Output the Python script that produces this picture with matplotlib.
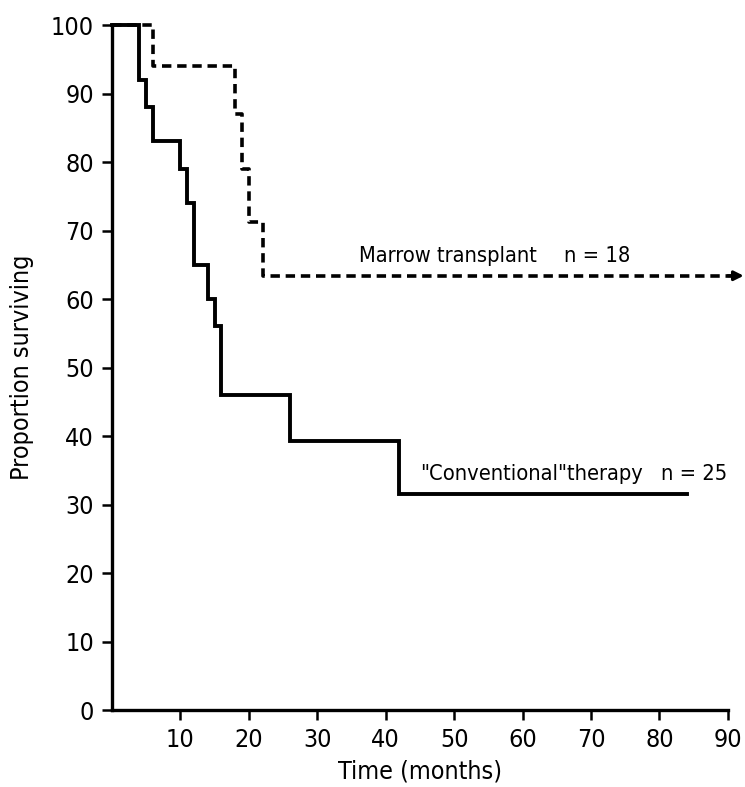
import os
import matplotlib
matplotlib.use("Agg")
import matplotlib.pyplot as plt
from matplotlib import font_manager
from matplotlib.font_manager import FontProperties

# pick a condensed sans font if one is installed
cands = []
for f in font_manager.fontManager.ttflist:
    base = os.path.basename(f.fname).lower()
    if ('narrow' in base or 'condensed' in base or f.stretch in ('condensed', 'semi-condensed')) \
            and not any(k in base for k in ('bold', 'italic', 'oblique', 'light', 'black', 'thin', 'medium', 'semi', 'extra')):
        pri = 9
        for i, key in enumerate(['liberationsansnarrow', 'dejavusanscondensed', 'notosans', 'opensans', 'roboto']):
            if key in base.replace('-', '').replace('_', ''):
                pri = i
                break
        cands.append((pri, f.fname))
cands.sort()
if cands:
    FP = dict(fontproperties=FontProperties(fname=cands[0][1]))
    SCALE = 1.0
else:
    plt.rcParams['font.family'] = ['Liberation Sans', 'DejaVu Sans']
    FP = {}
    SCALE = 0.85

# Data (months, percent surviving)
conv_times = [0, 4, 5, 6, 10, 11, 12, 14, 15, 16, 26, 42]
conv_surv = [100, 92, 88, 83, 79, 74, 65, 60, 56, 46, 39.3, 31.5]
conv_end = 84

marrow_times = [0, 6, 18, 19, 20, 22]
marrow_surv = [100, 94, 87, 79, 71.2, 63.4]
marrow_end = 91

x_ticks = [10, 20, 30, 40, 50, 60, 70, 80, 90]
y_ticks = [0, 10, 20, 30, 40, 50, 60, 70, 80, 90, 100]

fig = plt.figure(figsize=(7.45, 7.87), dpi=100)
ax = fig.add_axes([0.1503, 0.0978, 0.8268, 0.8704])

ax.step(conv_times + [conv_end], conv_surv + [conv_surv[-1]], where='post',
        color='black', lw=2.8, solid_joinstyle='miter', clip_on=False)
ax.step(marrow_times + [marrow_end], marrow_surv + [marrow_surv[-1]], where='post',
        color='black', lw=2.6, dashes=(2.6, 1.6), clip_on=False)
ax.annotate('', xy=(92.3, marrow_surv[-1]), xytext=(90.0, marrow_surv[-1]),
            arrowprops=dict(arrowstyle='-|>', color='black', lw=2.2,
                            mutation_scale=14, shrinkA=0, shrinkB=0),
            annotation_clip=False)

ax.set_xlim(0, 90)
ax.set_ylim(0, 100)
ax.set_xticks(x_ticks)
ax.set_yticks(y_ticks)
ax.tick_params(axis='both', direction='out', length=7, width=1.8, pad=6)
fs = 18 * SCALE
for lab in ax.get_xticklabels() + ax.get_yticklabels():
    if FP:
        lab.set_fontproperties(FP['fontproperties'])
    lab.set_fontsize(fs)
for s in ['top', 'right']:
    ax.spines[s].set_visible(False)
for s in ['left', 'bottom']:
    ax.spines[s].set_linewidth(2.4)

ax.set_xlabel('Time (months)', fontsize=fs, labelpad=5, **FP)
ax.set_ylabel('Proportion surviving', fontsize=fs, labelpad=12, **FP)
if FP:
    ax.xaxis.label.set_fontsize(fs)
    ax.yaxis.label.set_fontsize(fs)

tfs = 15.7 * SCALE
texts = [
    ax.text(36.1, 66.3, 'Marrow transplant', va='center', ha='left', **FP),
    ax.text(75.7, 66.3, 'n = 18', va='center', ha='right', **FP),
    ax.text(45.0, 34.5, '"Conventional"therapy', va='center', ha='left', **FP),
    ax.text(89.9, 34.5, 'n = 25', va='center', ha='right', **FP),
]
for t in texts:
    t.set_fontsize(tfs)

fig.savefig('out.png', dpi=100)
